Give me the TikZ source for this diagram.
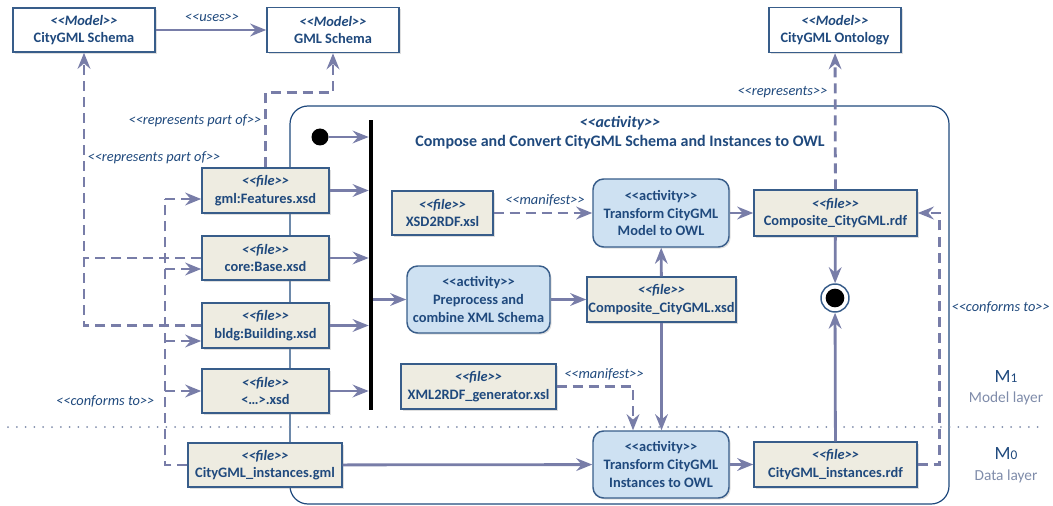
\documentclass[tikz,border=0pt]{standalone}
\usepackage{fontspec}
\setmainfont{Carlito}[Ligatures=TeXOff]
\usetikzlibrary{arrows.meta,shadows}
\definecolor{txtc}{RGB}{31,73,125}
\definecolor{boxc}{RGB}{56,93,138}
\definecolor{filec}{RGB}{238,236,225}
\definecolor{actc}{RGB}{206,225,242}
\definecolor{arrc}{RGB}{120,125,168}
\definecolor{layc}{RGB}{127,140,170}
\begin{document}
\begin{tikzpicture}[x=0.75pt,y=-0.75pt,
  model/.style={draw=boxc, fill=white, line width=1.1pt, text=txtc, font=\fontsize{10.8}{13.2}\selectfont\bfseries, align=center, inner sep=0pt, drop shadow={shadow xshift=1.2pt, shadow yshift=-1.2pt, opacity=0.25}},
  file/.style={model, fill=filec},
  act/.style={model, fill=actc, rounded corners=8pt},
  flow/.style={draw=arrc, line width=2.1pt, -{Stealth[length=12pt,width=9.5pt,inset=4pt]}},
  dep/.style={flow, dash pattern=on 7.5pt off 4.5pt},
  lbl/.style={text=txtc, font=\fontsize{10.8}{13}\selectfont\itshape, inner sep=1pt}]
\useasboundingbox (0,0) rectangle (1053,506);
\draw [draw=txtc, line width=0.9pt, rounded corners=13.5pt] (290,106) rectangle (949,504);
\draw [draw=layc, line width=1.5pt, line cap=round, dash pattern=on 0pt off 6.6pt] (8,427) -- (1045,427);
\node [text=txtc, font=\fontsize{12}{14.3}\selectfont\bfseries, align=center] (title) at (620,132.5) {\textit{<<activity>>}\\Compose and Convert CityGML Schema and Instances to OWL};
\node [model, minimum width=106.5pt, minimum height=33pt] (cgmls) at (84,30) {\textit{<<Model>>}\\CityGML Schema};
\node [model, minimum width=99pt, minimum height=33.75pt] (gmls) at (333,30) {\textit{<<Model>>}\\GML Schema};
\node [model, minimum width=99pt, minimum height=33.75pt] (onto) at (835,30) {\textit{<<Model>>}\\CityGML Ontology};
\node [file, minimum width=95.25pt, minimum height=33.75pt] (feat) at (265.5,190.5) {\textit{<<file>>}\\gml:Features.xsd};
\node [file, minimum width=95.25pt, minimum height=33pt] (base) at (265.5,258) {\textit{<<file>>}\\core:Base.xsd};
\node [file, minimum width=95.25pt, minimum height=33.75pt] (bldg) at (265.5,325.5) {\textit{<<file>>}\\bldg:Building.xsd};
\node [file, minimum width=95.25pt, minimum height=33pt] (other) at (265.5,391) {\textit{<<file>>}\\<…>.xsd};
\node [file, minimum width=115.5pt, minimum height=33pt] (inst) at (265,465) {\textit{<<file>>}\\CityGML\_instances.gml};
\node [file, minimum width=75.75pt, minimum height=33pt] (xsdrdf) at (442.5,213) {\textit{<<file>>}\\XSD2RDF.xsl};
\node [act, minimum width=102pt, minimum height=51pt] (tmodel) at (661,213) {<<activity>>\\Transform CityGML\\Model to OWL};
\node [act, minimum width=107.25pt, minimum height=50.25pt] (prep) at (478.5,299.5) {<<activity>>\\Preprocess and\\combine XML Schema};
\node [file, minimum width=111.75pt, minimum height=33.75pt] (compxsd) at (661.5,299.5) {\textit{<<file>>}\\Composite\_CityGML.xsd};
\node [file, minimum width=122.25pt, minimum height=34.5pt] (comprdf) at (835.5,213) {\textit{<<file>>}\\Composite\_CityGML.rdf};
\node [file, minimum width=116.25pt, minimum height=33.75pt] (xmlrdf) at (478.5,386.5) {\textit{<<file>>}\\XML2RDF\_generator.xsl};
\node [act, minimum width=102pt, minimum height=50.25pt] (tinst) at (661,464.5) {<<activity>>\\Transform CityGML\\Instances to OWL};
\node [file, minimum width=122.25pt, minimum height=33.75pt] (instrdf) at (835.5,464.5) {\textit{<<file>>}\\CityGML\_instances.rdf};
\node [circle, fill=black, minimum size=12.75pt, inner sep=0pt] (start) at (320,137) {};
\node [fill=black, minimum width=3pt, minimum height=217.5pt, inner sep=0pt] (bar) at (371,265) {};
\node [circle, draw=boxc, line width=1.1pt, fill=white, minimum size=21pt, inner sep=0pt] (final) at (835,298) {};
\node [circle, fill=black, minimum size=14pt, inner sep=0pt] (finaldot) at (final) {};
\draw [flow] (cgmls) -- (gmls);
\node [lbl] (uses) at (212,18) {<<uses>>};
\draw [flow] (start) -- (start -| bar.west);
\draw [flow] (feat) -- (feat -| bar.west);
\draw [flow] (base) -- (base -| bar.west);
\draw [flow] (bldg) -- (bldg -| bar.west);
\draw [flow] (other) -- (other -| bar.west);
\draw [flow] (bar.east |- prep) -- (prep);
\draw [flow] (prep) -- (compxsd);
\draw [flow] (compxsd) -- (tmodel);
\draw [flow] (tmodel) -- (comprdf);
\draw [flow] (comprdf) -- (final);
\draw [flow] (instrdf) -- (final);
\draw [flow] (compxsd) -- (compxsd |- tinst.north);
\draw [flow] (inst) -- (tinst);
\draw [flow] (tinst) -- (instrdf);
\draw [dep] (xsdrdf) -- (tmodel);
\node [lbl] (man1) at (545,200) {<<manifest>>};
\draw [dep] (xmlrdf.east) -| ([xshift=-21pt]tinst.north);
\node [lbl] (man2) at (604,374) {<<manifest>>};
\draw [dep] (comprdf) -- (onto);
\node [lbl, anchor=east] (repr) at (829,92) {<<represents>>};
\draw [dep] (instrdf.east) -- ++(22,0) |- (comprdf.east);
\node [lbl, anchor=west] (conf2) at (950,307) {<<conforms to>>};
\draw [dep] (feat.north) -- ++(0,-75) -| (gmls.south);
\node [lbl, anchor=east] (rpart1) at (263,121) {<<represents part of>>};
\draw [dep] (bldg.west) -| (cgmls.south);
\draw [dep, -] (base.west) -- (base.west -| cgmls.south);
\node [lbl, anchor=west] (rpart2) at (86,158) {<<represents part of>>};
\coordinate (cfb) at (165,465);
\coordinate (cft) at (165,199);
\draw [dep, -] (inst.west) -- (cfb) -- (cft);
\draw [dep] (cft) -- (cft -| feat.west);
\draw [dep] (cfb |- 0,269) -- (base.west |- 0,269);
\draw [dep] (cfb |- 0,341) -- (bldg.west |- 0,341);
\draw [dep] (cfb |- other) -- (other.west);
\node [lbl, anchor=east] (conf1) at (156,401) {<<conforms to>>};
\node [text=txtc, font=\fontsize{14}{16}\selectfont] (mone) at (1006,377) {M{\fontsize{10}{12}\selectfont 1}};
\node [text=layc, font=\fontsize{11.5}{14}\selectfont] (mlayer) at (1006,398) {Model layer};
\node [text=txtc, font=\fontsize{14}{16}\selectfont] (mzero) at (1006,454) {M{\fontsize{10}{12}\selectfont 0}};
\node [text=layc, font=\fontsize{11.5}{14}\selectfont] (dlayer) at (1006,476) {Data layer};
\end{tikzpicture}
\end{document}
